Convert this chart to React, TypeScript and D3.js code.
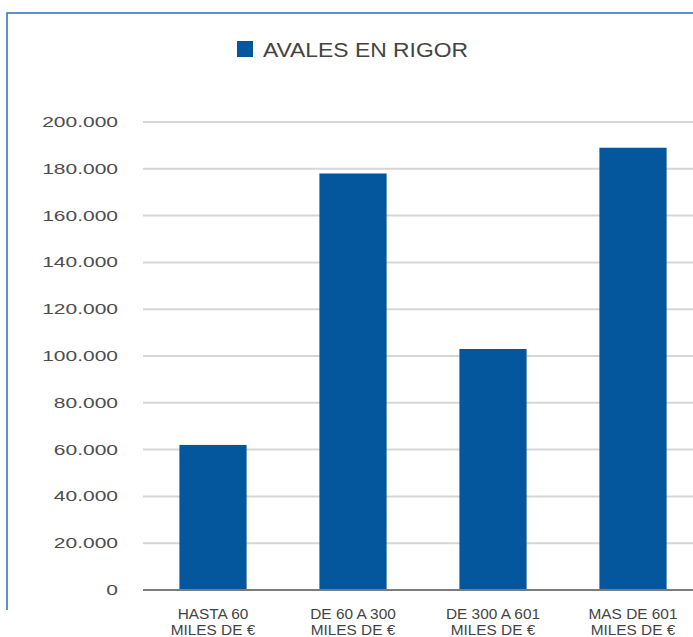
import React, { useEffect, useRef } from 'react';
import * as d3 from 'd3';

// values
const categories = ['HASTA 60', 'DE 60 A 300', 'DE 300 A 601', 'MAS DE 601'];
const categorySub = ['MILES DE €', 'MILES DE €', 'MILES DE €', 'MILES DE €'];
const avales = [62000, 178000, 103000, 189000];
const yTicks = [0, 20000, 40000, 60000, 80000, 100000, 120000, 140000, 160000, 180000, 200000];
const seriesName = 'AVALES EN RIGOR';

const width = 693;
const height = 637;
const blue = '#04579d';
const font = '"Liberation Sans", Arial, sans-serif';

const esLocale = d3.formatLocale({ decimal: ',', thousands: '.', grouping: [3], currency: ['', ' €'] });
const fmt = esLocale.format(',d');

const App = () => {
  const chartRef = useRef<SVGSVGElement>(null);

  useEffect(() => {
    const svg = d3.select(chartRef.current);
    svg.selectAll('*').remove();

    const xScale = d3.scaleBand<string>()
      .domain(categories)
      .range([143, 703])
      .paddingInner(0.52)
      .paddingOuter(0.26);

    const yScale = d3.scaleLinear()
      .domain([0, 200000])
      .range([590, 122]);

    // frame (only top and left edges show)
    svg.append('path')
      .attr('d', `M7,610 L7,13 L${width},13`)
      .attr('fill', 'none')
      .attr('stroke', '#2f6db5')
      .attr('stroke-width', 1.5);

    // legend / title
    svg.append('rect')
      .attr('x', 237).attr('y', 41)
      .attr('width', 16).attr('height', 16)
      .attr('fill', blue);
    svg.append('text')
      .attr('x', 263).attr('y', 57)
      .attr('font-family', font)
      .attr('font-size', 21)
      .attr('fill', '#444')
      .attr('textLength', 205)
      .attr('lengthAdjust', 'spacingAndGlyphs')
      .text(seriesName);

    // grid
    svg.append('g')
      .selectAll('line')
      .data(yTicks.filter(d => d > 0))
      .enter()
      .append('line')
      .attr('x1', 143).attr('x2', width)
      .attr('y1', d => yScale(d)).attr('y2', d => yScale(d))
      .attr('stroke', '#d6d6d6')
      .attr('stroke-width', 2);

    // y labels
    svg.append('g')
      .selectAll('text')
      .data(yTicks)
      .enter()
      .append('text')
      .attr('transform', d => `translate(118, ${yScale(d) + 5}) scale(1.5, 1)`)
      .attr('text-anchor', 'end')
      .attr('font-family', font)
      .attr('font-size', 14)
      .attr('fill', '#4d4d4d')
      .text(d => fmt(d));

    // bars
    svg.append('g')
      .selectAll('rect')
      .data(avales)
      .enter()
      .append('rect')
      .attr('x', (d, i) => xScale(categories[i]) as number)
      .attr('y', d => yScale(d))
      .attr('width', xScale.bandwidth())
      .attr('height', d => yScale(0) - yScale(d))
      .attr('fill', blue);

    // baseline
    svg.append('line')
      .attr('x1', 143).attr('x2', width)
      .attr('y1', yScale(0)).attr('y2', yScale(0))
      .attr('stroke', '#7c7c7c')
      .attr('stroke-width', 2);

    // x labels
    const xl = svg.append('g')
      .selectAll('g')
      .data(categories)
      .enter()
      .append('g')
      .attr('transform', d => `translate(${(xScale(d) as number) + xScale.bandwidth() / 2}, ${yScale(0)})`);
    [categories, categorySub].forEach((lines, row) => {
      xl.append('text')
        .attr('transform', `translate(0, ${29 + row * 16}) scale(1.1, 1)`)
        .attr('text-anchor', 'middle')
        .attr('font-family', font)
        .attr('font-size', 14)
        .attr('fill', '#444')
        .text((d, i) => lines[i]);
    });
  });

  return (
    <div style={{ position: 'absolute', left: 0, top: 0 }}>
      <svg
        viewBox={`0 0 ${width} ${height}`}
        width={width}
        height={height}
        ref={chartRef}
        style={{ display: 'block', background: '#fff' }}
      />
    </div>
  );
};

export default App;
